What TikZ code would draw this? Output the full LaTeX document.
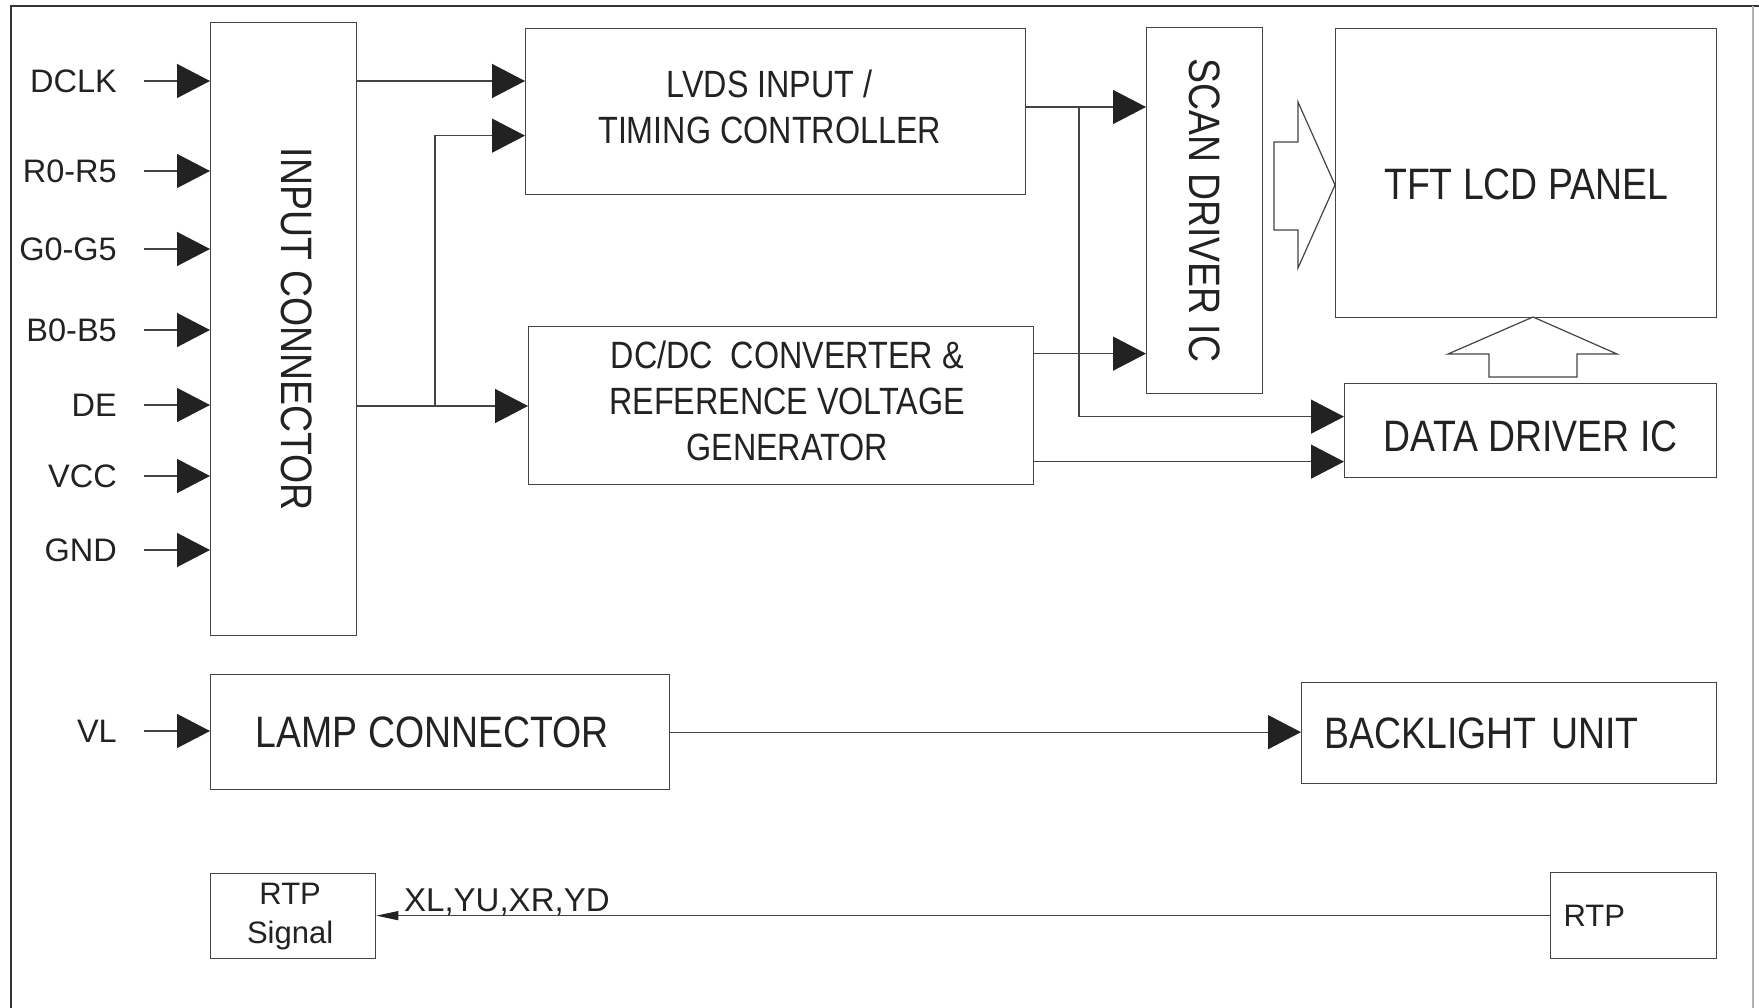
\documentclass[tikz,border=0pt]{standalone}
\usepackage{fontspec}
\setmainfont{Liberation Sans}
\newfontfamily\nar[FakeStretch=0.85]{Liberation Sans}
\usetikzlibrary{arrows.meta}
\definecolor{ln}{HTML}{444444}
\definecolor{tipc}{HTML}{222222}
\definecolor{txt}{HTML}{222222}
\definecolor{frm}{HTML}{333333}
\begin{document}
\begin{tikzpicture}[x=1pt,y=-1pt,
  box/.style={draw=ln, line width=1.3pt, anchor=north west, inner sep=0pt, align=center, text=txt},
  wire/.style={draw=ln, line width=1.3pt},
  arr/.style={wire, -{Triangle[length=33pt,width=34pt,color=tipc]}},
  sarr/.style={wire, -{Triangle[length=22pt,width=9pt,color=tipc]}},
  lbl/.style={anchor=east, inner sep=0pt, text=txt, font=\fontsize{32.5}{38}\selectfont},
  big/.style={font=\nar\fontsize{44}{52}\selectfont},
  mid/.style={font=\nar\fontsize{38}{46}\selectfont},
  small/.style={font=\fontsize{31}{39}\selectfont},
  hollow/.style={draw=ln, line width=1.2pt, fill=white}
]
\useasboundingbox (0,0) rectangle (1759,1008);
% frame
\draw[frm, line width=1.3pt] (11,1008) -- (11,6) -- (1759,6);
\draw[black!30, line width=1.3pt] (1753,6) -- (1753,1008);

% boxes
\node[box, minimum width=146pt, minimum height=613pt] (in) at (210,22)
  {\rotatebox{-90}{\nar\fontsize{44}{52}\selectfont INPUT CONNECTOR\rule[-26pt]{0pt}{0pt}}};
\node[box, mid, minimum width=500pt, minimum height=166pt] (lvds) at (525,28)
  {LVDS INPUT /\hspace*{12pt}\\TIMING CONTROLLER\hspace*{12pt}\rule[-10pt]{0pt}{0pt}};
\node[box, mid, minimum width=505pt, minimum height=158pt] (dcdc) at (528,326)
  {\hspace*{12pt}DC/DC\ \ CONVERTER \&\\\hspace*{12pt}REFERENCE VOLTAGE\\\hspace*{12pt}GENERATOR\rule[-10pt]{0pt}{0pt}};
\node[box, minimum width=116pt, minimum height=366pt] (scan) at (1146,27)
  {\rotatebox{-90}{\nar\fontsize{44}{52}\selectfont SCAN DRIVER IC}};
\node[box, big, minimum width=381pt, minimum height=289pt] (tft) at (1335,28)
  {\rule{0pt}{54pt}TFT LCD PANEL};
\node[box, big, minimum width=372pt, minimum height=94pt] (data) at (1344,383)
  {\rule{0pt}{42pt}DATA DRIVER IC};
\node[box, big, minimum width=459pt, minimum height=115pt] (lamp) at (210,674)
  {LAMP CONNECTOR\hspace*{16pt}};
\node[box, big, minimum height=101pt, inner xsep=23pt, text width=369pt, align=left] (blu) at (1301,682)
  {BACKLIGHT UNIT};
\node[box, small, minimum width=165pt, minimum height=85pt] (rtps) at (210,873)
  {RTP\hspace*{6pt}\\Signal\hspace*{6pt}};
\node[box, small, minimum height=86pt, inner xsep=13pt, text width=140pt, align=left] (rtp) at (1550,872)
  {RTP};

% input labels
\node[lbl] (dclk) at (117,81) {DCLK};
\node[lbl] (rr) at (117,171) {R0-R5};
\node[lbl] (gg) at (117,249) {G0-G5};
\node[lbl] (bb) at (117,330) {B0-B5};
\node[lbl] (de) at (117,405) {DE};
\node[lbl] (vcc) at (117,476) {VCC};
\node[lbl] (gnd) at (117,550) {GND};
\node[lbl] (vl) at (117,731) {VL};
\foreach \n in {dclk,rr,gg,bb,de,vcc,gnd}
  \draw[arr] ([xshift=27pt]\n.east) -- (in.west |- \n.east);
\draw[arr] ([xshift=27pt]vl.east) -- (lamp.west |- vl.east);

% internal connections
\draw[arr] (in.east |- dclk.east) -- (lvds.west |- dclk.east);
\coordinate (j1) at (435,406);
\draw[wire] (in.east |- j1) -- (j1);
\draw[arr] (j1) -- (dcdc.west |- j1);
\draw[arr] (j1) |- ([yshift=-24pt]lvds.west);
\coordinate (j2) at (1079,107);
\draw[arr] (lvds.east |- j2) -- (scan.west |- j2);
\draw[arr] (j2) |- ([yshift=14pt]data.west);
\coordinate (d1) at ([yshift=52pt]dcdc.east);
\draw[arr] (d1) -- (scan.west |- d1);
\coordinate (d2) at ([yshift=-56pt]dcdc.east);
\draw[arr] (d2) -- (data.west |- d2);
\draw[arr] (lamp.east) -- (blu.west |- lamp.east);
\draw[sarr] (rtp.west) -- (rtps.east |- rtp.west);
\node[anchor=base west, inner sep=0pt, text=txt, font=\fontsize{33}{38}\selectfont] (xl) at (404,911) {XL,YU,XR,YD};

% hollow arrows
\draw[hollow] (1274,142) -- (1298,142) -- (1298,102) -- (1335,185) -- (1298,268) -- (1298,230) -- (1274,230) -- cycle;
\draw[hollow] (1489,377) -- (1489,354) -- (1448,354) -- (1533,317) -- (1617,354) -- (1577,354) -- (1577,377) -- cycle;
\end{tikzpicture}
\end{document}
